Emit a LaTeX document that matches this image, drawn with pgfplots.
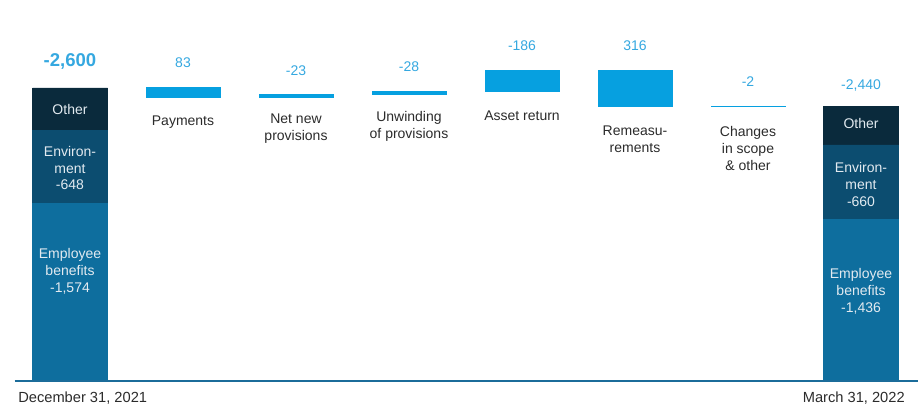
\documentclass[border=0pt]{standalone}
\usepackage{pgfplots}
\pgfplotsset{compat=1.18}
\usepackage{fontspec}
\setmainfont{Liberation Sans}
\definecolor{emp}{HTML}{0E6E9E}
\definecolor{env}{HTML}{0C4D70}
\definecolor{oth}{HTML}{0A2A3C}
\definecolor{flt}{HTML}{06A0E0}
\definecolor{val}{HTML}{35A8E0}
\definecolor{inb}{HTML}{E2EAF0}
\definecolor{axc}{HTML}{1B6C9A}
\definecolor{txt}{HTML}{2B2B2B}
\pgfplotsset{geom/.style={scale only axis, width=688.5pt, height=308.25pt,
  xmin=-0.6195, xmax=7.5044, ymin=-266.2, ymax=3380.7, hide axis, clip=false}}
\begin{document}
\begin{tikzpicture}[font=\fontsize{10.5}{12.75}\selectfont]
% end bars
\begin{axis}[geom, ybar stacked, bar width=56.25pt]
\addplot[fill=emp, draw=emp, line width=0.2pt] coordinates {(0,1574) (7,1436)};
\addplot[fill=env, draw=env, line width=0.2pt] coordinates {(0,648) (7,660)};
\addplot[fill=oth, draw=oth, line width=0.2pt] coordinates {(0,378) (7,344)};
\end{axis}
% floating bars
\begin{axis}[geom, ybar stacked, bar width=55.5pt]
\addplot[fill=none, draw=none] coordinates {(1,2517) (2,2517) (3,2540) (4,2568) (5,2438) (6,2438)};
\addplot[fill=flt, draw=flt, line width=0.75pt] coordinates {(1,83) (2,23) (3,28) (4,186) (5,316) (6,2)};
\end{axis}
% baseline and labels
\begin{axis}[geom]
\addplot[axc, line width=2pt, no marks] coordinates {(-0.49,0) (7.5044,0)};
% value labels
\node[val, font=\fontsize{13.9}{16}\selectfont\bfseries] at (axis cs:0,2831) {-2,600};
\node[val] at (axis cs:1,2822) {83};
\node[val] at (axis cs:2,2751) {-23};
\node[val] at (axis cs:3,2786) {-28};
\node[val] at (axis cs:4,2973) {-186};
\node[val] at (axis cs:5,2973) {316};
\node[val] at (axis cs:6,2653) {-2};
\node[val] at (axis cs:7,2618) {-2,440};
% category labels
\node[txt, align=center] at (axis cs:1,2298) {Payments};
\node[txt, align=center] at (axis cs:2,2240) {Net new\\provisions};
\node[txt, align=center] at (axis cs:3,2263) {Unwinding\\of provisions};
\node[txt, align=center] at (axis cs:4,2351) {Asset return};
\node[txt, align=center] at (axis cs:5,2143) {Remeasu-\\rements};
\node[txt, align=center] at (axis cs:6,2067) {Changes\\in scope\\\& other};
% inside-bar labels
\node[inb, align=center] at (axis cs:0,2413) {Other};
\node[inb, align=center] at (axis cs:0,1890) {Environ-\\ment\\-648};
\node[inb, align=center] at (axis cs:0,976) {Employee\\benefits\\-1,574};
\node[inb, align=center] at (axis cs:7,2289) {Other};
\node[inb, align=center] at (axis cs:7,1748) {Environ-\\ment\\-660};
\node[inb, align=center] at (axis cs:7,799) {Employee\\benefits\\-1,436};
% dates
\node[txt, anchor=west, inner sep=0pt, font=\fontsize{11}{13}\selectfont] at (axis cs:-0.46,-151) {December 31, 2021};
\node[txt, anchor=east, inner sep=0pt, font=\fontsize{11}{13}\selectfont] at (axis cs:7.389,-151) {March 31, 2022};
\end{axis}
\pgfresetboundingbox
\path[use as bounding box] (current axis.south west) rectangle (current axis.north east);
\end{tikzpicture}
\end{document}
